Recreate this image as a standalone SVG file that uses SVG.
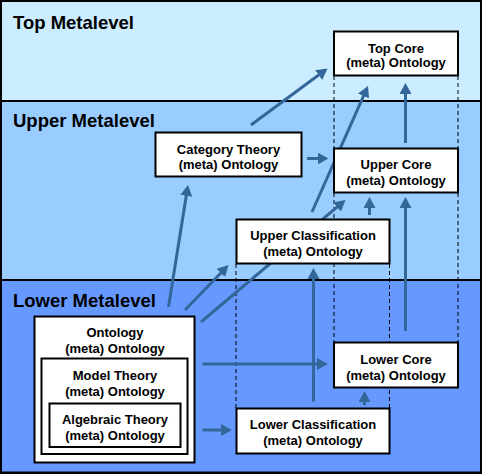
<svg xmlns="http://www.w3.org/2000/svg" width="482" height="474" viewBox="0 0 482 474">
  <style>
    .lvl { font-family: "Liberation Sans", Arial, sans-serif; font-weight: bold; font-size: 18.5px; fill: #000; }
    .box { fill: #fff; stroke: #000; stroke-width: 2; }
    .lbl { font-family: "Liberation Sans", Arial, sans-serif; font-weight: bold; font-size: 13px; fill: #000; text-anchor: middle; }
    .guide { stroke: #000; stroke-width: 1; stroke-dasharray: 4 3; fill: none; }
    .arr { stroke: #336699; stroke-width: 3; fill: none; marker-end: url(#head); }
  </style>
  <defs>
    <marker id="head" markerUnits="userSpaceOnUse" markerWidth="12" markerHeight="12" refX="8" refY="6" orient="auto" viewBox="0 0 12 12">
      <path d="M0,0 L11,6 L0,12 Z" fill="#336699"/>
    </marker>
  </defs>

  <g id="background">
    <rect x="0" y="0" width="482" height="474" fill="#000"/>
    <rect x="2" y="2" width="478" height="98" fill="#CCECFF"/>
    <rect x="2" y="102" width="478" height="177" fill="#99CCFF"/>
    <rect x="2" y="281" width="478" height="190.5" fill="#6699FF"/>
    <text class="lvl" x="13" y="29">Top Metalevel</text>
    <text class="lvl" x="13" y="127">Upper Metalevel</text>
    <text class="lvl" x="13" y="306.5">Lower Metalevel</text>
  </g>

  <g id="guides">
    <line class="guide" x1="334" y1="76" x2="334" y2="148"/>
    <line class="guide" x1="458" y1="76" x2="458" y2="148"/>
    <line class="guide" x1="334" y1="193" x2="334" y2="342"/>
    <line class="guide" x1="458" y1="193" x2="458" y2="342"/>
    <line class="guide" x1="236" y1="264" x2="236" y2="408"/>
    <line class="guide" x1="389.5" y1="264" x2="389.5" y2="408"/>
  </g>

  <g id="connectors">
    <line class="arr" x1="251" y1="125" x2="325.1" y2="70.3"/>
    <line class="arr" x1="312" y1="212" x2="366.8" y2="88.7"/>
    <line class="arr" x1="405.5" y1="143" x2="405.5" y2="86"/>
    <line class="arr" x1="307" y1="158.5" x2="325.5" y2="158.5"/>
    <line class="arr" x1="168.5" y1="307" x2="187.5" y2="188"/>
    <line class="arr" x1="185" y1="310" x2="226.4" y2="267.2"/>
    <line class="arr" x1="201" y1="322" x2="343.2" y2="201.9"/>
    <line class="arr" x1="369.5" y1="215" x2="369.5" y2="200"/>
    <line class="arr" x1="313.5" y1="401.5" x2="313.5" y2="271"/>
    <line class="arr" x1="405.5" y1="331" x2="405.5" y2="200"/>
    <line class="arr" x1="202.5" y1="364" x2="325" y2="364"/>
    <line class="arr" x1="364.5" y1="405" x2="364.5" y2="394"/>
    <line class="arr" x1="202.5" y1="430" x2="229" y2="430"/>
  </g>

  <g id="top-core">
    <rect class="box" x="334" y="31.5" width="124" height="44"/>
    <text class="lbl" x="396" y="52.5">Top Core</text>
    <text class="lbl" x="396" y="67">(meta) Ontology</text>
  </g>
  <g id="upper-core">
    <rect class="box" x="334" y="148.5" width="124" height="44"/>
    <text class="lbl" x="396" y="169">Upper Core</text>
    <text class="lbl" x="396" y="184.5">(meta) Ontology</text>
  </g>
  <g id="category-theory">
    <rect class="box" x="155.5" y="132.5" width="146" height="44"/>
    <text class="lbl" x="228.5" y="153.5">Category Theory</text>
    <text class="lbl" x="228.5" y="168.5">(meta) Ontology</text>
  </g>
  <g id="upper-classification">
    <rect class="box" x="236.5" y="219.5" width="153" height="44"/>
    <text class="lbl" x="313" y="240">Upper Classification</text>
    <text class="lbl" x="313" y="255.5">(meta) Ontology</text>
  </g>
  <g id="lower-core">
    <rect class="box" x="334" y="342.5" width="124" height="45"/>
    <text class="lbl" x="396" y="363.5">Lower Core</text>
    <text class="lbl" x="396" y="379.5">(meta) Ontology</text>
  </g>
  <g id="lower-classification">
    <rect class="box" x="236.5" y="408.5" width="153" height="45"/>
    <text class="lbl" x="313" y="428.5">Lower Classification</text>
    <text class="lbl" x="313" y="445">(meta) Ontology</text>
  </g>
  <g id="ontology">
    <rect class="box" x="34.5" y="316.5" width="160" height="146"/>
    <text class="lbl" x="115" y="337">Ontology</text>
    <text class="lbl" x="115" y="352.5">(meta) Ontology</text>
    <g id="model-theory">
      <rect class="box" x="41.5" y="358.5" width="146" height="95.5"/>
      <text class="lbl" x="115" y="380">Model Theory</text>
      <text class="lbl" x="115" y="396">(meta) Ontology</text>
      <g id="algebraic-theory">
        <rect class="box" x="49.5" y="403.5" width="131" height="43.5"/>
        <text class="lbl" x="115" y="424">Algebraic Theory</text>
        <text class="lbl" x="115" y="440">(meta) Ontology</text>
      </g>
    </g>
  </g>
</svg>
